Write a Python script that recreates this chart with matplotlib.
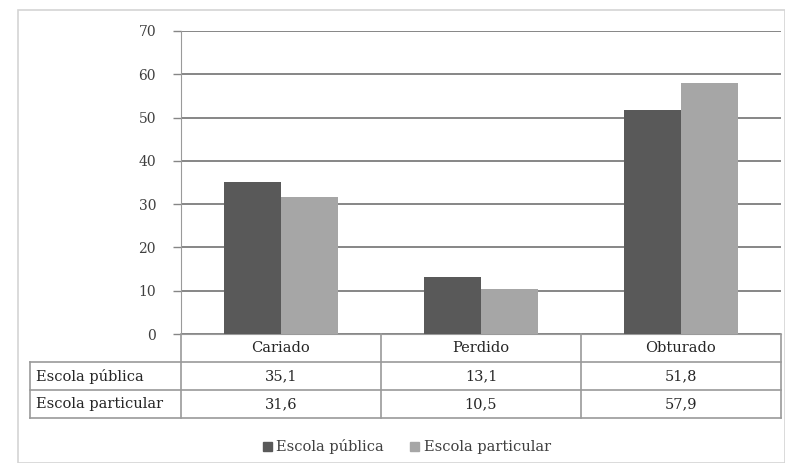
import matplotlib
matplotlib.use("Agg")
import matplotlib.pyplot as plt
import numpy as np
from matplotlib.lines import Line2D
from matplotlib.patches import Rectangle
from matplotlib.transforms import blended_transform_factory

categories = ["Cariado", "Perdido", "Obturado"]
series_names = ["Escola pública", "Escola particular"]
publica = [35.1, 13.1, 51.8]
particular = [31.6, 10.5, 57.9]
yticks = [0, 10, 20, 30, 40, 50, 60, 70]

DARK = "#595959"
LIGHT = "#a6a6a6"
GRID = "#868686"
LINE = "#9a9a9a"

W, H = 785, 463
plt.rcParams["font.family"] = ["DejaVu Serif"]

fig = plt.figure(figsize=(W / 100, H / 100), dpi=100)


def fy(py):
    # pixel row (from top) -> figure fraction
    return 1 - py / H


# light outer frame of the chart area
fig.add_artist(Rectangle((18 / W, 0), 1 - 18 / W, fy(10), transform=fig.transFigure,
                         fill=False, edgecolor="#d4d4d4", lw=1.2))

y0, y70 = 334, 31
ax = fig.add_axes([181 / W, fy(y0), 600 / W, (y0 - y70) / H])

x = np.arange(len(categories))
bw = 0.285
ax.bar(x - bw / 2, publica, bw, color=DARK, label=series_names[0], zorder=3)
ax.bar(x + bw / 2, particular, bw, color=LIGHT, label=series_names[1], zorder=3)

ax.set_xlim(-0.5, 2.5)
ax.set_ylim(0, 70)
ax.set_yticks(yticks)
ax.set_yticklabels([str(t) for t in yticks], fontsize=10, color="#404040")
ax.set_xticks([])
ax.yaxis.grid(True, color=GRID, lw=1.4, zorder=0)
ax.tick_params(axis="y", length=6, width=1, color=GRID, pad=12)
for side in ["top", "right"]:
    ax.spines[side].set_visible(False)
ax.spines["left"].set_color(LINE)
ax.spines["bottom"].set_color(LINE)

# data table under the axis
tr = blended_transform_factory(ax.transData, fig.transFigure)
x_edges = [-0.5, 0.5, 1.5, 2.5]
x_lab = -0.5 - 151 / 200
rows = [334, 362, 390, 418]

for xe in x_edges:
    fig.add_artist(Line2D([xe, xe], [fy(rows[0]), fy(rows[-1])], transform=tr,
                          color=LINE, lw=1.2))
fig.add_artist(Line2D([x_lab, x_lab], [fy(rows[1]), fy(rows[-1])], transform=tr,
                      color=LINE, lw=1.2))
for r in rows[1:]:
    fig.add_artist(Line2D([x_lab, 2.5], [fy(r), fy(r)], transform=tr,
                          color=LINE, lw=1.2))

for i, cat in enumerate(categories):
    fig.text(x[i], fy((rows[0] + rows[1]) / 2), cat, transform=tr,
             ha="center", va="center", fontsize=10.5, color="#262626")

for j, (name, vals) in enumerate(zip(series_names, [publica, particular])):
    yc = fy((rows[j + 1] + rows[j + 2]) / 2)
    fig.text(x_lab + 0.03, yc, name, transform=tr, ha="left", va="center",
             fontsize=10.5, color="#262626")
    for i, v in enumerate(vals):
        fig.text(x[i], yc, f"{v:.1f}".replace(".", ","), transform=tr,
                 ha="center", va="center", fontsize=10.5, color="#262626")

handles = [Rectangle((0, 0), 1, 1, color=DARK), Rectangle((0, 0), 1, 1, color=LIGHT)]
fig.legend(handles, series_names, loc="center", bbox_to_anchor=(407 / W, fy(447)),
           ncol=2, frameon=False, fontsize=10.5, handlelength=0.6, handleheight=0.6,
           handletextpad=0.3, columnspacing=1.8, labelcolor="#404040")

fig.savefig("out.png", dpi=100, facecolor="white")
